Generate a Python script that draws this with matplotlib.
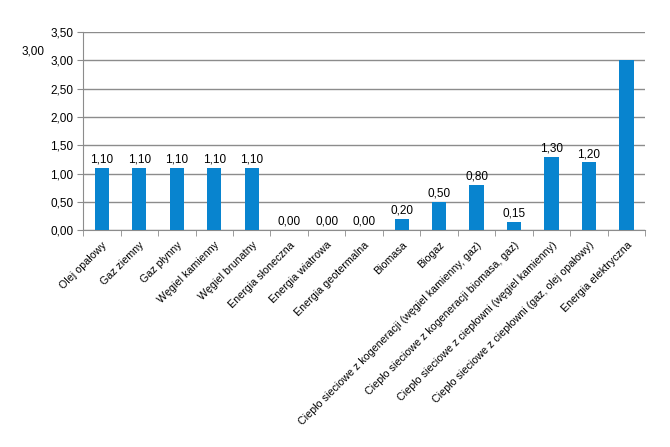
import matplotlib
matplotlib.use("Agg")
import matplotlib.pyplot as plt
from matplotlib.ticker import FuncFormatter, FixedLocator

plt.rcParams["font.family"] = ["Liberation Sans Narrow", "Liberation Sans", "DejaVu Sans"]

categories = [
    "Olej opałowy",
    "Gaz ziemny",
    "Gaz płynny",
    "Węgiel kamienny",
    "Węgiel brunatny",
    "Energia słoneczna",
    "Energia wiatrowa",
    "Energia geotermalna",
    "Biomasa",
    "Biogaz",
    "Ciepło sieciowe z kogeneracji (węgiel kamienny, gaz)",
    "Ciepło sieciowe z kogeneracji biomasa, gaz)",
    "Ciepło sieciowe z ciepłowni (węgiel kamienny)",
    "Ciepło sieciowe z ciepłowni (gaz, olej opałowy)",
    "Energia elektryczna",
]
values = [1.10, 1.10, 1.10, 1.10, 1.10, 0.00, 0.00, 0.00,
          0.20, 0.50, 0.80, 0.15, 1.30, 1.20, 3.00]
y_ticks = [0.0, 0.5, 1.0, 1.5, 2.0, 2.5, 3.0, 3.5]

BAR_COLOR = "#0884CF"
GRID_COLOR = "#8C8C8C"


def pl(v):
    return f"{v:.2f}".replace(".", ",")


fig = plt.figure(figsize=(6.7, 4.47), dpi=100)
ax = fig.add_axes([0.124, 0.485, 0.839, 0.443])

x = list(range(len(categories)))
ax.bar(x, values, width=0.38, color=BAR_COLOR, zorder=3)

# value labels (the last one sits at the top-left of the figure)
for xi, v in zip(x[:-1], values[:-1]):
    ax.text(xi, v + 0.04, pl(v), ha="center", va="bottom", fontsize=8.5, zorder=4)
fig.text(33 / 670, 1 - 52 / 447, pl(values[-1]), ha="center", va="center", fontsize=8.5)

ax.set_xlim(-0.5, len(categories) - 0.5)
ax.set_ylim(0, 3.5)
ax.set_yticks(y_ticks)
ax.yaxis.set_major_formatter(FuncFormatter(lambda v, _: pl(v)))
ax.yaxis.grid(True, color=GRID_COLOR, linewidth=1.0, zorder=0)
ax.set_axisbelow(True)

ax.set_xticks(x)
ax.set_xticklabels(categories, rotation=45, ha="right", rotation_mode="anchor", fontsize=7.7)
ax.tick_params(axis="x", length=0, pad=7)
ax.xaxis.set_minor_locator(FixedLocator([i - 0.5 for i in range(len(categories) + 1)]))
ax.tick_params(axis="x", which="minor", length=4, color=GRID_COLOR)
ax.tick_params(axis="y", length=4, color=GRID_COLOR, labelsize=8.5, pad=3)

for side in ["top", "right"]:
    ax.spines[side].set_visible(False)
for side in ["left", "bottom"]:
    ax.spines[side].set_color(GRID_COLOR)

fig.savefig("out.png", dpi=100)
